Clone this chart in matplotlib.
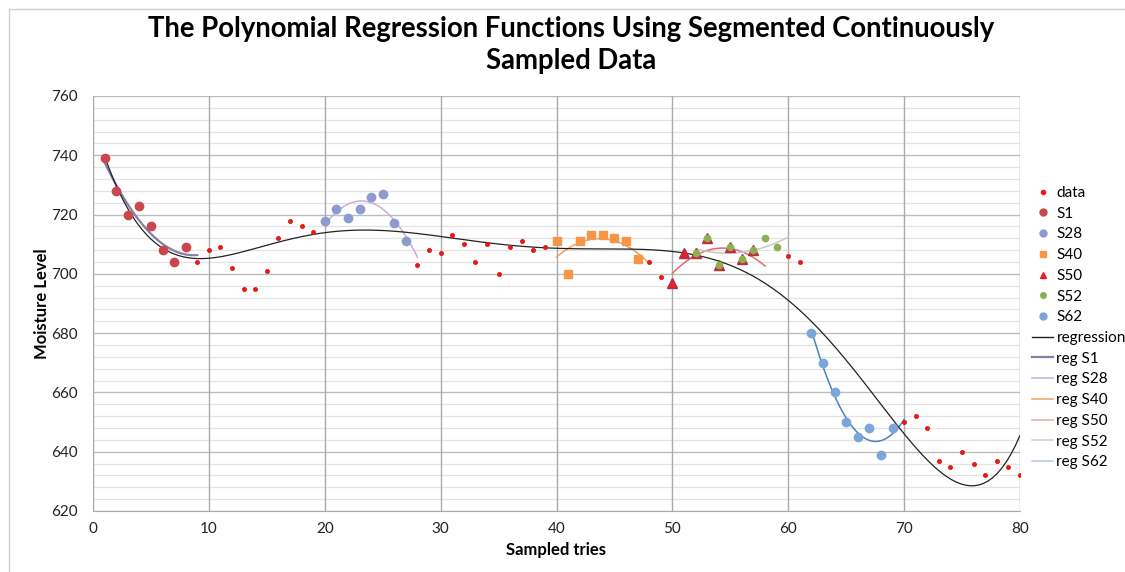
import numpy as np
import matplotlib
matplotlib.use("Agg")
import matplotlib.pyplot as plt
from matplotlib.lines import Line2D
from matplotlib.patches import Rectangle

# ---------------- data ----------------
x_data = list(range(1, 81))
y_data = [739, 728, 720, 723, 716, 708, 704, 709,
          704, 708, 709, 702, 695, 695, 701, 712, 718, 716, 714,
          718, 722, 719, 722, 726, 727, 717, 711,
          703, 708, 707, 713, 710, 704, 710, 700, 709, 711, 708, 709,
          711, 700, 711, 713, 713, 712, 711, 705,
          704, 699,
          697, 707, 707, 712, 703, 709, 705, 708,
          712, 709,
          706, 704,
          680, 670, 660, 650, 645, 648, 639, 648,
          650, 652, 648, 637, 635, 640, 636, 632, 637, 635, 632]

s1_x = [1, 2, 3, 4, 5, 6, 7, 8]
s1_y = [739, 728, 720, 723, 716, 708, 704, 709]
s28_x = [20, 21, 22, 23, 24, 25, 26, 27]
s28_y = [718, 722, 719, 722, 726, 727, 717, 711]
s40_x = [40, 41, 42, 43, 44, 45, 46, 47]
s40_y = [711, 700, 711, 713, 713, 712, 711, 705]
s50_x = [50, 51, 52, 53, 54, 55, 56, 57]
s50_y = [697, 707, 707, 712, 703, 709, 705, 708]
s52_x = [52, 53, 54, 55, 56, 57, 58, 59]
s52_y = [707, 712, 703, 709, 705, 708, 712, 709]
s62_x = [62, 63, 64, 65, 66, 67, 68, 69]
s62_y = [680, 670, 660, 650, 645, 648, 639, 648]

x_ticks = [0, 10, 20, 30, 40, 50, 60, 70, 80]
y_ticks = [620, 640, 660, 680, 700, 720, 740, 760]

FONT = ["Lato", "DejaVu Sans"]
plt.rcParams['font.family'] = FONT

fig = plt.figure(figsize=(11.25, 5.72), dpi=100)
ax = fig.add_axes([93 / 1125, 1 - 511 / 572, (1020 - 93) / 1125, (511 - 96) / 572])

# gridlines
for yv in np.arange(620, 761, 4):
    major = (yv - 620) % 20 == 0
    ax.axhline(yv, color='#BDBDBD' if major else '#E3E3E3', lw=1.0 if major else 0.9, zorder=0)
for xv in x_ticks:
    ax.axvline(xv, color='#ABABAB', lw=1.0, zorder=0)

def fit_curve(xs, ys, deg, x0, x1):
    c = np.polyfit(xs, ys, deg)
    xx = np.linspace(x0, x1, 200)
    return xx, np.polyval(c, xx)

# regression lines
xx, yy = fit_curve(x_data, y_data, 6, 1, 80)
ax.plot(xx, yy, color='#222222', lw=0.9, zorder=3)
xx, yy = fit_curve(s1_x, s1_y, 2, s1_x[0], s1_x[-1] + 1)
ax.plot(xx, yy, color='#8A7CA8', lw=1.6, zorder=2)
xx, yy = fit_curve(s28_x, s28_y, 2, s28_x[0], s28_x[-1] + 1)
ax.plot(xx, yy, color='#C7AEDB', lw=1.1, zorder=2)
xx, yy = fit_curve(s40_x, s40_y, 2, s40_x[0], s40_x[-1] + 1)
ax.plot(xx, yy, color='#F5A05A', lw=1.1, zorder=2)
xx, yy = fit_curve(s50_x, s50_y, 2, s50_x[0], s50_x[-1] + 1)
ax.plot(xx, yy, color='#D9706A', lw=1.1, zorder=2)
xx, yy = fit_curve(s52_x, s52_y, 2, s52_x[0], s52_x[-1] + 1)
ax.plot(xx, yy, color='#C8C8C8', lw=1.1, zorder=2)
xx, yy = fit_curve(s62_x, s62_y, 2, s62_x[0], s62_x[-1] + 1)
ax.plot(xx, yy, color='#4A82C0', lw=1.1, zorder=2)

# markers
ax.plot(x_data, y_data, 'o', color='#FF1010', ms=3.0, mec='#C02020', mew=0.5, zorder=4)
ax.plot(s1_x, s1_y, 'o', color='#C9474A', ms=6, mec='#C9474A', zorder=5)
ax.plot(s28_x, s28_y, 'o', color='#8E9BCF', ms=6, mec='#8E9BCF', zorder=5)
ax.plot(s40_x, s40_y, 's', color='#F79646', ms=6, mec='#F79646', zorder=5)
ax.plot(s50_x, s50_y, '^', color='#E8202A', ms=6.5, mec='#B03050', zorder=5)
ax.plot(s52_x, s52_y, 'o', color='#8DB04E', ms=4.5, mec='#8DB04E', zorder=6)
ax.plot(s62_x, s62_y, 'o', color='#7AA6DA', ms=6, mec='#7AA6DA', zorder=5)

ax.set_xlim(0, 80)
ax.set_ylim(620, 760)
ax.set_xticks(x_ticks)
ax.set_yticks(y_ticks)
ax.tick_params(length=0, labelsize=11, colors='#222222')
ax.tick_params(axis='x', pad=8)
ax.tick_params(axis='y', pad=11)
for s in ['top', 'right']:
    ax.spines[s].set_visible(False)
for s in ['left', 'bottom']:
    ax.spines[s].set_color('#ABABAB')

ax.set_xlabel('Sampled tries', fontsize=12, fontweight='bold', labelpad=4)
ax.set_ylabel('Moisture Level', fontsize=12, fontweight='bold', labelpad=1)

fig.text(0.5076, 1 - 45 / 572, 'The Polynomial Regression Functions Using Segmented Continuously\nSampled Data',
         ha='center', va='center', fontsize=19.8, fontweight='bold', linespacing=1.28)

handles = [
    Line2D([], [], ls='', marker='o', color='#FF1010', ms=3),
    Line2D([], [], ls='', marker='o', color='#C9474A', ms=5),
    Line2D([], [], ls='', marker='o', color='#8E9BCF', ms=5),
    Line2D([], [], ls='', marker='s', color='#F79646', ms=5),
    Line2D([], [], ls='', marker='^', color='#E8202A', ms=5),
    Line2D([], [], ls='', marker='o', color='#8DB04E', ms=4),
    Line2D([], [], ls='', marker='o', color='#7AA6DA', ms=5),
    Line2D([], [], color='#222222', lw=1),
    Line2D([], [], color='#8A7CA8', lw=1.6),
    Line2D([], [], color='#C7AEDB', lw=1.1),
    Line2D([], [], color='#F5A05A', lw=1.1),
    Line2D([], [], color='#E8A8A8', lw=1.1),
    Line2D([], [], color='#D0D0D0', lw=1.1),
    Line2D([], [], color='#B8C8E8', lw=1.1),
]
labels = ['data', 'S1', 'S28', 'S40', 'S50', 'S52', 'S62', 'regression',
          'reg S1', 'reg S28', 'reg S40', 'reg S50', 'reg S52', 'reg S62']
fig.legend(handles, labels, loc='upper left', bbox_to_anchor=(1032 / 1125, 1 - 186 / 572),
           frameon=False, fontsize=11, handlelength=1.4, handletextpad=0.2,
           labelspacing=0.44, borderpad=0, borderaxespad=0)

fig.patches.append(Rectangle((9 / 1125, -0.1), 1.2, 1 - 9 / 572 + 0.1, transform=fig.transFigure,
                             fill=False, ec='#CFCFCF', lw=1.0))

fig.savefig('out.png', dpi=100)
